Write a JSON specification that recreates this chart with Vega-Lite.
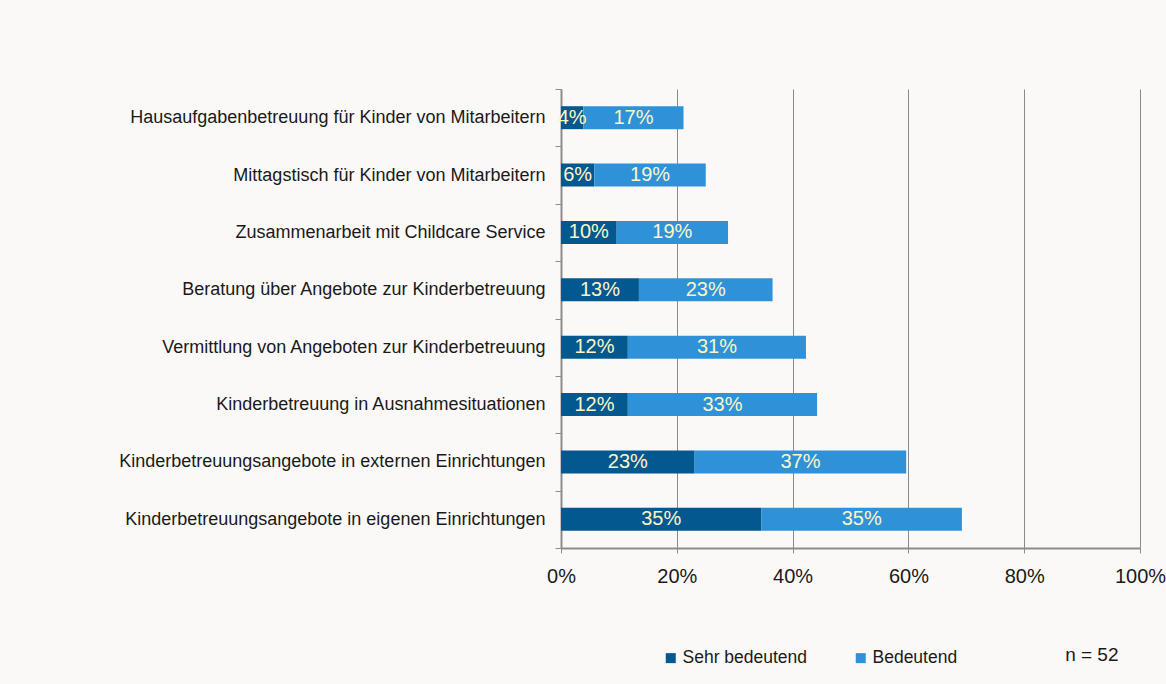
{
  "$schema": "https://vega.github.io/schema/vega-lite/v6.json",
  "width": 579,
  "height": 459,
  "autosize": {"type": "none"},
  "padding": {"left": 561, "top": 89, "right": 26, "bottom": 136},
  "background": "#faf9f8",
  "config": {
    "view": {"stroke": null},
    "font": "Liberation Sans"
  },
  "data": {
    "values": [
      {"cat": "Hausaufgabenbetreuung für Kinder von Mitarbeitern", "series": "Sehr bedeutend", "v": 0.0385},
      {"cat": "Hausaufgabenbetreuung für Kinder von Mitarbeitern", "series": "Bedeutend", "v": 0.1731},
      {"cat": "Mittagstisch für Kinder von Mitarbeitern", "series": "Sehr bedeutend", "v": 0.0577},
      {"cat": "Mittagstisch für Kinder von Mitarbeitern", "series": "Bedeutend", "v": 0.1923},
      {"cat": "Zusammenarbeit mit Childcare Service", "series": "Sehr bedeutend", "v": 0.0962},
      {"cat": "Zusammenarbeit mit Childcare Service", "series": "Bedeutend", "v": 0.1923},
      {"cat": "Beratung über Angebote zur Kinderbetreuung", "series": "Sehr bedeutend", "v": 0.1346},
      {"cat": "Beratung über Angebote zur Kinderbetreuung", "series": "Bedeutend", "v": 0.2308},
      {"cat": "Vermittlung von Angeboten zur Kinderbetreuung", "series": "Sehr bedeutend", "v": 0.1154},
      {"cat": "Vermittlung von Angeboten zur Kinderbetreuung", "series": "Bedeutend", "v": 0.3077},
      {"cat": "Kinderbetreuung in Ausnahmesituationen", "series": "Sehr bedeutend", "v": 0.1154},
      {"cat": "Kinderbetreuung in Ausnahmesituationen", "series": "Bedeutend", "v": 0.3269},
      {"cat": "Kinderbetreuungsangebote in externen Einrichtungen", "series": "Sehr bedeutend", "v": 0.2308},
      {"cat": "Kinderbetreuungsangebote in externen Einrichtungen", "series": "Bedeutend", "v": 0.3654},
      {"cat": "Kinderbetreuungsangebote in eigenen Einrichtungen", "series": "Sehr bedeutend", "v": 0.3462},
      {"cat": "Kinderbetreuungsangebote in eigenen Einrichtungen", "series": "Bedeutend", "v": 0.3462}
    ]
  },
  "encoding": {
    "y": {
      "field": "cat",
      "type": "nominal",
      "sort": null,
      "title": null,
      "scale": {"paddingInner": 0, "paddingOuter": 0},
      "axis": {
        "domainColor": "#8c8c8c",
        "domainWidth": 2,
        "tickColor": "#8c8c8c",
        "tickSize": 6,
        "tickBand": "extent",
        "labelFontSize": 18,
        "labelColor": "#1a1a1a",
        "labelPadding": 10,
        "labelLimit": 600
      }
    },
    "order": {"field": "series", "sort": "descending"}
  },
  "layer": [
    {
      "mark": {"type": "bar", "height": {"band": 0.4}},
      "encoding": {
        "x": {
          "field": "v",
          "type": "quantitative",
          "stack": "zero",
          "scale": {"domain": [0, 1], "nice": false},
          "axis": {
            "values": [0, 0.2, 0.4, 0.6, 0.8, 1],
            "format": ".0%",
            "grid": true,
            "gridColor": "#8a8a8a",
            "gridWidth": 1,
            "domainColor": "#8c8c8c",
            "domainWidth": 2,
            "tickColor": "#8c8c8c",
            "tickSize": 5,
            "labelFontSize": 20,
            "labelColor": "#1a1a1a",
            "labelPadding": 13,
            "labelFlush": false,
            "title": "n = 52",
            "titleFontSize": 19,
            "titleFontWeight": "normal",
            "titleColor": "#1a1a1a",
            "titleX": 557,
            "titleY": 112,
            "titleAlign": "right",
            "titleBaseline": "alphabetic"
          }
        },
        "color": {
          "field": "series",
          "type": "nominal",
          "scale": {"domain": ["Sehr bedeutend", "Bedeutend"], "range": ["#03588f", "#2f92d9"]},
          "legend": {
            "title": null,
            "orient": "none",
            "legendX": 101,
            "legendY": 560,
            "direction": "horizontal",
            "columns": 2,
            "columnPadding": 44,
            "symbolType": "square",
            "symbolSize": 100,
            "symbolStrokeWidth": 0,
            "labelFontSize": 17.5,
            "labelColor": "#1a1a1a",
            "labelOffset": 3
          }
        }
      }
    },
    {
      "mark": {"type": "text", "fontSize": 20, "color": "#fcf6c6", "baseline": "middle", "align": "center"},
      "encoding": {
        "x": {"field": "v", "type": "quantitative", "stack": "zero", "bandPosition": 0.5},
        "detail": {"field": "series"},
        "text": {"field": "v", "type": "quantitative", "format": ".0%"}
      }
    }
  ]
}
